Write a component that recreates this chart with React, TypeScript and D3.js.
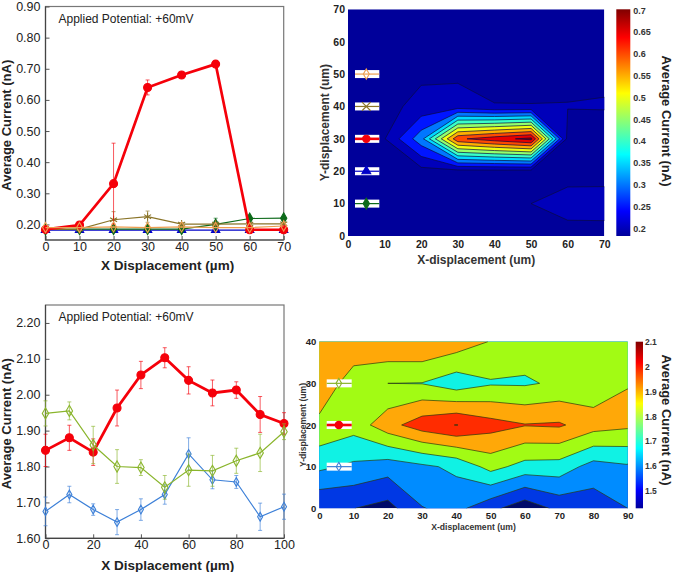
import React, { useRef, useEffect } from 'react';
import * as d3 from 'd3';

const FONT = '"Liberation Sans", Arial, sans-serif';

// top line chart, X displacement 0-70 um, one series per Y row of the map below
const xTop = [0, 10, 20, 30, 40, 50, 60, 70];
const topRed = [0.184, 0.198, 0.331, 0.64, 0.68, 0.715, 0.183, 0.183];
const topRedErr = [0.004, 0.006, 0.13, 0.024, 0.004, 0.003, 0.003, 0.003];
const topBrown = [0.184, 0.185, 0.215, 0.225, 0.201, 0.201, 0.2015, 0.202];
const topBrownErr = [0.003, 0.003, 0.026, 0.018, 0.005, 0.005, 0.004, 0.004];
const topOrange = [0.19, 0.19, 0.192, 0.19, 0.192, 0.19, 0.19, 0.195];
const topBlue = [0.182, 0.182, 0.182, 0.182, 0.182, 0.182, 0.182, 0.182];
const topGreen = [0.184, 0.185, 0.185, 0.185, 0.185, 0.2, 0.219, 0.22];
const topGreenErr = [0.002, 0.002, 0.002, 0.002, 0.002, 0.02, 0.005, 0.004];
const topBase = [0.182, 0.182, 0.182, 0.182, 0.182, 0.182, 0.182, 0.182];

// bottom line chart, X displacement 0-100 um
const xBottom = [0, 10, 20, 30, 40, 50, 60, 70, 80, 90, 100];
const botRed = [1.845, 1.88, 1.84, 1.963, 2.055, 2.103, 2.04, 2.005, 2.013, 1.945, 1.92];
const botRedErr = [0.045, 0.035, 0.037, 0.05, 0.038, 0.028, 0.038, 0.036, 0.023, 0.05, 0.03];
const botGreen = [1.948, 1.955, 1.86, 1.8, 1.797, 1.742, 1.79, 1.788, 1.816, 1.838, 1.897];
const botGreenErr = [0.035, 0.025, 0.052, 0.047, 0.022, 0.033, 0.045, 0.043, 0.035, 0.052, 0.022];
const botBlue = [1.675, 1.722, 1.68, 1.645, 1.68, 1.722, 1.835, 1.763, 1.757, 1.66, 1.688];
const botBlueErr = [0.04, 0.023, 0.016, 0.035, 0.03, 0.027, 0.045, 0.025, 0.018, 0.038, 0.035];

// the lower map starts at the 10 um point of the line chart
const mapRow0 = [1.5, 1.502, 1.465, 1.596, 1.63, 1.53, 1.434, 1.528, 1.544, 1.6];
const mapRow40 = [1.96, 1.955, 1.992, 1.995, 1.956, 1.895, 1.85, 1.85, 1.86, 1.88];

const topLevels = [0.2, 0.25, 0.3, 0.35, 0.4, 0.45, 0.5, 0.55, 0.6, 0.65, 0.7];
const botLevels = [1.5, 1.6, 1.7, 1.8, 1.9, 2.0, 2.1];
const botBandColors = ['#0038e4', '#008cff', '#10f2e4', '#a2fb14', '#ffa808', '#ff2c00', '#800000'];
const topBarTicks = [0.2, 0.25, 0.3, 0.35, 0.4, 0.45, 0.5, 0.55, 0.6, 0.65, 0.7];
const botBarTicks = [1.5, 1.6, 1.7, 1.8, 1.9, 2, 2.1];

const jetStops = ['#00009a', '#0000ff', '#00ffff', '#ffff00', '#ff0000', '#800000'];
const jetPos = [0, 0.11, 0.36, 0.63, 0.875, 1];
const jet = d3.scaleLinear<string>().domain(jetPos).range(jetStops);

type Series = { y: number[]; err?: number[]; color: string; width: number; symbol: any; size: number; fill: boolean };

const drawLines = (svg: any, box: any, xs: number[], xDomain: number[], xTicks: number[], yDomain: number[], yTicks: number[], series: Series[]) => {
  const x = d3.scaleLinear().domain(xDomain).range([box.left, box.right]);
  const y = d3.scaleLinear().domain(yDomain).range([box.bottom, box.top]);

  svg.append('rect')
    .attr('x', box.left).attr('y', box.top)
    .attr('width', box.right - box.left).attr('height', box.bottom - box.top)
    .attr('fill', 'none').attr('stroke', '#777').attr('stroke-width', 1.2);

  const xAxis = svg.append('g')
    .attr('transform', `translate(0,${box.bottom})`)
    .call(d3.axisBottom(x).tickValues(xTicks).tickFormat(d3.format('d')).tickSizeInner(-4).tickSizeOuter(0).tickPadding(2));
  const yAxis = svg.append('g')
    .attr('transform', `translate(${box.left},0)`)
    .call(d3.axisLeft(y).tickValues(yTicks).tickFormat(d3.format('.2f')).tickSizeInner(-4).tickSizeOuter(0).tickPadding(5));
  [xAxis, yAxis].forEach((a) => {
    a.select('.domain').remove();
    a.selectAll('line').attr('stroke', '#555');
    a.selectAll('text').attr('font-family', FONT).attr('font-size', 12.5).attr('fill', '#222');
  });
  // bottom and left edges are darker than the rest of the frame
  svg.append('path')
    .attr('d', `M${box.left},${box.top}V${box.bottom}H${box.right}`)
    .attr('fill', 'none').attr('stroke', '#444').attr('stroke-width', 1.2);

  series.forEach((s) => {
    const g = svg.append('g');
    if (s.err) {
      xs.forEach((d, i) => {
        const yHi = Math.max(y(s.y[i] + s.err![i]), box.top);
        const yLo = Math.min(y(s.y[i] - s.err![i]), box.bottom);
        g.append('path')
          .attr('d', `M${x(d)},${yHi}V${yLo}M${x(d) - 2},${yHi}h4M${x(d) - 2},${yLo}h4`)
          .attr('fill', 'none').attr('stroke', s.color).attr('stroke-opacity', 0.65).attr('stroke-width', 1);
      });
    }
    const line = d3.line<number>().x((d, i) => x(xs[i])).y((d) => y(d));
    g.append('path').attr('d', line(s.y)).attr('fill', 'none').attr('stroke', s.color).attr('stroke-width', s.width);
    const shape = d3.symbol().type(s.symbol).size(s.size);
    s.y.forEach((v, i) => {
      g.append('path')
        .attr('d', shape())
        .attr('transform', `translate(${x(xs[i])},${y(v)})`)
        .attr('fill', s.fill ? s.color : 'none')
        .attr('stroke', s.color).attr('stroke-width', 1.1);
    });
  });

  svg.append('text')
    .attr('x', box.left + 13).attr('y', box.top + box.noteDy)
    .attr('font-family', FONT).attr('font-size', 12).attr('fill', '#222')
    .text('Applied Potential: +60mV');
  svg.append('text')
    .attr('x', (box.left + box.right) / 2 + 3).attr('y', box.bottom + box.xTitleDy)
    .attr('text-anchor', 'middle').attr('font-family', FONT).attr('font-size', 13.5).attr('font-weight', 'bold').attr('fill', '#222')
    .text('X Displacement (µm)');
  svg.append('text')
    .attr('transform', `translate(11,${(box.top + box.bottom) / 2 + 2}) rotate(-90)`)
    .attr('text-anchor', 'middle').attr('font-family', FONT).attr('font-size', 13).attr('font-weight', 'bold').attr('fill', '#222')
    .text('Average Current (nA)');
};

const drawMap = (svg: any, m: any) => {
  const x = d3.scaleLinear().domain(m.xDomain).range([m.left, m.right]);
  const y = d3.scaleLinear().domain(m.yDomain).range([m.bottom, m.top]);
  const nx = m.rows[0].length;
  const ny = m.rows.length;
  const flat = m.rows.flat();

  // d3.contours puts grid value i at coordinate i + 0.5
  const path = d3.geoPath(d3.geoTransform({
    point(px: number, py: number) {
      (this as any).stream.point(x((px - 0.5) * m.xStep), y((py - 0.5) * m.yStep));
    },
  }));

  svg.append('clipPath').attr('id', m.id).append('rect')
    .attr('x', m.left).attr('y', m.top).attr('width', m.right - m.left).attr('height', m.bottom - m.top);

  const color = (v: number) => jet((v - m.barDomain[0]) / (m.barDomain[1] - m.barDomain[0]));
  const plot = svg.append('g').attr('clip-path', `url(#${m.id})`);
  plot.append('rect')
    .attr('x', m.left).attr('y', m.top).attr('width', m.right - m.left).attr('height', m.bottom - m.top)
    .attr('fill', m.baseFill || color(m.barDomain[0]));
  const bands = d3.contours().size([nx, ny]).thresholds(m.levels)(flat);
  bands.forEach((b, i) => {
    if (!b.coordinates.length) return;
    plot.append('path')
      .attr('d', path(b as any))
      .attr('fill', m.bandColors ? m.bandColors[i] : color(b.value))
      .attr('stroke', m.lineColor).attr('stroke-width', 0.7);
  });

  const xAxis = svg.append('g').attr('transform', `translate(0,${m.bottom})`)
    .call(d3.axisBottom(x).tickValues(m.xTicks).tickSize(0).tickPadding(m.xPad));
  const yAxis = svg.append('g').attr('transform', `translate(${m.left},0)`)
    .call(d3.axisLeft(y).tickValues(m.yTicks).tickSize(0).tickPadding(3));
  [xAxis, yAxis].forEach((a) => {
    a.select('.domain').remove();
    a.selectAll('text').attr('font-family', FONT).attr('font-size', m.tickFont).attr('font-weight', 'bold').attr('fill', '#222');
  });
  svg.append('text')
    .attr('x', (m.left + m.right) / 2).attr('y', m.bottom + m.xTitleDy)
    .attr('text-anchor', 'middle').attr('font-family', FONT).attr('font-size', m.titleFont).attr('font-weight', 'bold').attr('fill', '#333')
    .text('X-displacement (um)');
  svg.append('text')
    .attr('transform', `translate(${m.yTitleX},${(m.top + m.bottom) / 2}) rotate(-90)`)
    .attr('text-anchor', 'middle').attr('font-family', FONT).attr('font-size', m.titleFont).attr('font-weight', 'bold').attr('fill', '#333')
    .text('Y-displacement (um)');

  // legend keys sitting on the map
  m.keys.forEach((k: any) => {
    const cy = y(k.row);
    const kx = x(m.keyX);
    svg.append('rect').attr('x', m.keyLeft).attr('y', cy - 4).attr('width', m.keyWidth).attr('height', 8).attr('fill', '#fff');
    svg.append('line').attr('x1', m.keyLeft).attr('x2', m.keyLeft + m.keyWidth).attr('y1', cy).attr('y2', cy)
      .attr('stroke', k.color).attr('stroke-width', k.width);
    svg.append('path').attr('d', d3.symbol().type(k.symbol).size(k.size)())
      .attr('transform', `translate(${kx},${cy})`)
      .attr('fill', k.fill ? k.color : 'none').attr('stroke', k.color).attr('stroke-width', 1.1);
  });

  // colorbar
  const barY = d3.scaleLinear().domain(m.barDomain).range([m.bottom, m.top]);
  const grad = svg.append('linearGradient').attr('id', `${m.id}-bar`).attr('x1', 0).attr('x2', 0).attr('y1', 1).attr('y2', 0);
  jetPos.forEach((p, i) => grad.append('stop').attr('offset', p).attr('stop-color', jetStops[i]));
  svg.append('rect').attr('x', m.barLeft).attr('y', m.top).attr('width', m.barWidth).attr('height', m.bottom - m.top)
    .attr('fill', `url(#${m.id}-bar)`);
  const barAxis = svg.append('g').attr('transform', `translate(${m.barLeft + m.barWidth},0)`)
    .call(d3.axisRight(barY).tickValues(m.barTicks).tickFormat((d: any) => String(d)).tickSize(0).tickPadding(m.barPad));
  barAxis.select('.domain').remove();
  barAxis.selectAll('text').attr('font-family', FONT).attr('font-size', m.barFont).attr('font-weight', 'bold').attr('fill', '#333');
  svg.append('text')
    .attr('transform', `translate(${m.barTitleX},${m.barTitleY}) rotate(90)`)
    .attr('text-anchor', 'middle').attr('font-family', FONT).attr('font-size', 13).attr('font-weight', 'bold').attr('fill', '#222')
    .text('Average Current (nA)');
};

const App = () => {
  const svgRef = useRef<SVGSVGElement>(null);

  useEffect(() => {
    const svg = d3.select(svgRef.current);
    svg.selectAll('*').remove();

    const orange = '#ee9e50';
    const brown = '#8a7428';
    const dGreen = '#0d6a1a';
    const navy = '#0000c8';
    const red = '#f5000a';
    const oGreen = '#8ab52c';
    const oBlue = '#3d80d8';

    drawLines(svg,
      { left: 45.5, right: 283.7, top: 6.5, bottom: 240, noteDy: 16, xTitleDy: 30 },
      xTop, [0, 70], xTop, [0.15, 0.9], [0.2, 0.3, 0.4, 0.5, 0.6, 0.7, 0.8, 0.9],
      [
        { y: topBlue, color: navy, width: 1.2, symbol: d3.symbolTriangle, size: 30, fill: true },
        { y: topGreen, err: topGreenErr, color: dGreen, width: 1.2, symbol: d3.symbolDiamond, size: 34, fill: true },
        { y: topBrown, err: topBrownErr, color: brown, width: 1.2, symbol: d3.symbolAsterisk, size: 46, fill: false },
        { y: topRed, err: topRedErr, color: red, width: 2.7, symbol: d3.symbolCircle, size: 50, fill: true },
        { y: topOrange, color: orange, width: 1.2, symbol: d3.symbolDiamond, size: 30, fill: false },
      ]);

    drawLines(svg,
      { left: 45.5, right: 284, top: 305, bottom: 538.3, noteDy: 16, xTitleDy: 32 },
      xBottom, [0, 100], [0, 20, 40, 60, 80, 100], [1.6, 2.25], [1.6, 1.7, 1.8, 1.9, 2.0, 2.1, 2.2],
      [
        { y: botBlue, err: botBlueErr, color: oBlue, width: 1.2, symbol: d3.symbolDiamond, size: 22, fill: false },
        { y: botRed, err: botRedErr, color: red, width: 2.8, symbol: d3.symbolCircle, size: 50, fill: true },
        { y: botGreen, err: botGreenErr, color: oGreen, width: 1.2, symbol: d3.symbolDiamond, size: 36, fill: false },
      ]);

    drawMap(svg, {
      id: 'map-top',
      left: 348, right: 604.3, top: 9.3, bottom: 236,
      xDomain: [0, 70], yDomain: [0, 70], xStep: 10, yStep: 10,
      rows: [topBase, topGreen, topBlue, topRed, topBrown, topOrange, topBase, topBase],
      levels: topLevels, lineColor: '#0a0a40',
      xTicks: d3.range(0, 71, 10), yTicks: d3.range(0, 71, 10),
      tickFont: 10.5, titleFont: 12, xTitleDy: 27.5, yTitleX: 329, xPad: 5,
      keys: [
        { row: 50, color: orange, width: 1.2, symbol: d3.symbolDiamond, size: 30, fill: false },
        { row: 40, color: brown, width: 1.2, symbol: d3.symbolTimes, size: 50, fill: false },
        { row: 30, color: red, width: 2.6, symbol: d3.symbolCircle, size: 42, fill: true },
        { row: 20, color: navy, width: 1.2, symbol: d3.symbolTriangle, size: 34, fill: true },
        { row: 10, color: dGreen, width: 1.2, symbol: d3.symbolDiamond, size: 34, fill: true },
      ],
      keyX: 5, keyLeft: 355, keyWidth: 24.3,
      barDomain: [0.182, 0.702], barTicks: topBarTicks, barLeft: 616.3, barWidth: 14, barFont: 9, barPad: 3,
      barTitleX: 662, barTitleY: 121,
    });

    drawMap(svg, {
      id: 'map-bottom',
      left: 319.3, right: 627.7, top: 341.7, bottom: 508.3,
      xDomain: [0, 90], yDomain: [0, 40], xStep: 10, yStep: 10,
      rows: [mapRow0, botBlue.slice(1), botRed.slice(1), botGreen.slice(1), mapRow40],
      levels: botLevels, bandColors: botBandColors, baseFill: '#000a6a', lineColor: '#2a3a10',
      xTicks: d3.range(0, 91, 10), yTicks: d3.range(0, 41, 10),
      tickFont: 9.5, titleFont: 8.6, xTitleDy: 21.5, yTitleX: 305.5, xPad: 4,
      keys: [
        { row: 30, color: oGreen, width: 1.2, symbol: d3.symbolDiamond, size: 28, fill: false },
        { row: 20, color: red, width: 2.6, symbol: d3.symbolCircle, size: 42, fill: true },
        { row: 10, color: oBlue, width: 1.2, symbol: d3.symbolDiamond, size: 22, fill: false },
      ],
      keyX: 5.7, keyLeft: 326.7, keyWidth: 25,
      barDomain: [1.43, 2.1], barTicks: botBarTicks, barLeft: 635.7, barWidth: 7.3, barFont: 8.5, barPad: 2,
      barTitleX: 662, barTitleY: 420,
    });
  }, []);

  return (
    <svg ref={svgRef} width={673} height={572} style={{ position: 'absolute', left: 0, top: 0, background: '#fff' }} />
  );
};

export default App;
